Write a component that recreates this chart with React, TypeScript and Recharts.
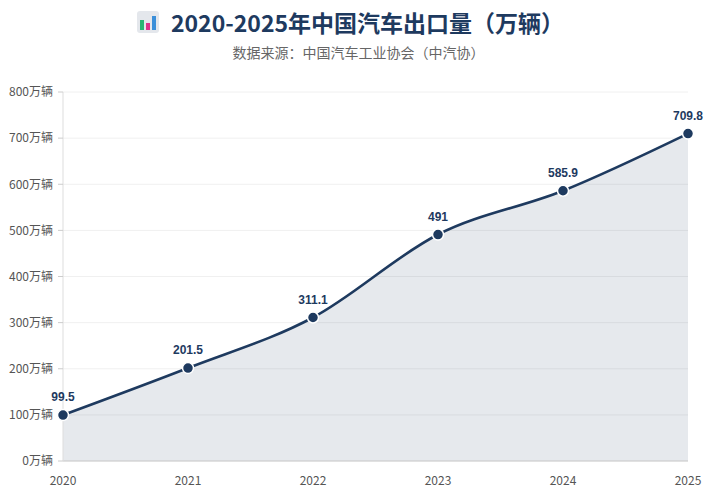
import { Area, AreaChart, CartesianGrid, LabelList, XAxis, YAxis } from 'recharts'

const years = ['2020', '2021', '2022', '2023', '2024', '2025']
const exports = [99.5, 201.5, 311.1, 491, 585.9, 709.8]
const yTicks = [0, 100, 200, 300, 400, 500, 600, 700, 800]

const NAVY = '#1e3a5f'
const FONT = '"Noto Sans CJK SC", "Noto Sans", sans-serif'
const NUM_FONT = '"Liberation Sans", Arial, sans-serif'

const data = years.map((year, i) => ({ year, value: exports[i] }))

// stand-in for the 📊 emoji, no emoji font in the sandbox
function ChartIcon() {
  return (
    <svg width={22} height={22} viewBox="0 0 22 22" style={{ marginRight: 12 }}>
      <rect x={0} y={0} width={22} height={22} rx={3} fill="#e4e7ec" />
      <rect x={3} y={9} width={4} height={10} fill="#2bb673" />
      <rect x={9} y={12} width={4} height={7} fill="#e0338a" />
      <rect x={15} y={5} width={4} height={14} fill="#3b8fd9" />
    </svg>
  )
}

function NavyDot({ cx, cy }: { cx?: number; cy?: number }) {
  if (cx == null || cy == null) return null
  return <circle cx={cx} cy={cy} r={5.5} fill={NAVY} stroke="#fff" strokeWidth={1.5} />
}

export default function App() {
  return (
    <div
      style={{
        position: 'absolute',
        left: 0,
        top: 0,
        width: 717,
        height: 493,
        background: '#fff',
        fontFamily: FONT,
      }}
    >
      <div
        style={{
          position: 'absolute',
          top: 6,
          left: 0,
          width: 717,
          display: 'flex',
          justifyContent: 'center',
          alignItems: 'center',
          paddingRight: 16,
          boxSizing: 'border-box',
        }}
      >
        <ChartIcon />
        <span style={{ fontSize: 23, fontWeight: 700, color: NAVY, lineHeight: '32px' }}>
          2020-2025年中国汽车出口量（万辆）
        </span>
      </div>
      <div
        style={{
          position: 'absolute',
          top: 42,
          left: 0,
          width: 717,
          textAlign: 'center',
          fontSize: 14,
          color: '#666',
          lineHeight: '20px',
        }}
      >
        数据来源：中国汽车工业协会（中汽协）
      </div>
      <AreaChart
        width={717}
        height={493}
        data={data}
        margin={{ top: 92, right: 29, left: 0, bottom: 0 }}
        style={{ position: 'absolute', left: 0, top: 0 }}
      >
        <CartesianGrid stroke="#f0f0f0" vertical={false} />
        <XAxis
          dataKey="year"
          tick={{ fill: '#555', fontSize: 12, fontFamily: FONT }}
          tickLine={false}
          axisLine={{ stroke: '#ccc' }}
          tickMargin={9}
          height={32}
        />
        <YAxis
          domain={[0, 800]}
          ticks={yTicks}
          tickFormatter={(v) => `${v}万辆`}
          tick={{ fill: '#555', fontSize: 12, fontFamily: FONT }}
          tickLine={{ stroke: '#ccc' }}
          tickSize={5}
          tickMargin={5}
          axisLine={{ stroke: '#ddd' }}
          width={63}
        />
        <Area
          type="monotone"
          dataKey="value"
          stroke={NAVY}
          strokeWidth={2.6}
          fill={NAVY}
          fillOpacity={0.11}
          dot={<NavyDot />}
          activeDot={false}
          isAnimationActive={false}
        >
          <LabelList
            dataKey="value"
            position="top"
            offset={14}
            style={{ fill: NAVY, fontSize: 12, fontWeight: 700, fontFamily: NUM_FONT }}
          />
        </Area>
      </AreaChart>
    </div>
  )
}
